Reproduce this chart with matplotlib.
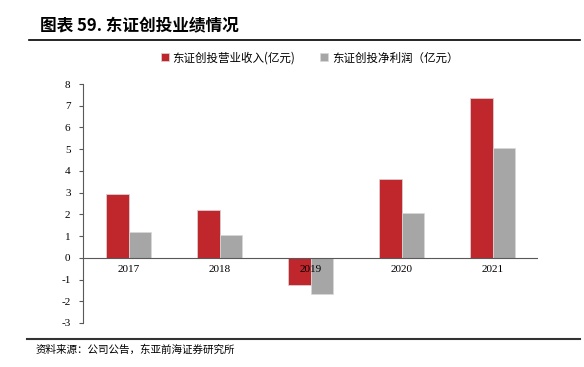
import numpy as np
import matplotlib.pyplot as plt

years = ["2017", "2018", "2019", "2020", "2021"]
revenue = [2.93, 2.18, -1.24, 3.62, 7.37]
profit = [1.20, 1.06, -1.67, 2.08, 5.04]
yticks = [-3, -2, -1, 0, 1, 2, 3, 4, 5, 6, 7, 8]

cjk = ['Noto Sans CJK SC', 'DejaVu Sans']
serif = ['Liberation Serif', 'DejaVu Serif']

fig = plt.figure(figsize=(5.84, 3.67), dpi=100)
ax = fig.add_axes([83 / 584, 1 - 323 / 367, 455 / 584, 239 / 367])

x = np.arange(len(years))
w = 0.242
ax.bar(x - w / 2, revenue, w, color="#C0272D", edgecolor="#d9d9d9", linewidth=0.5,
       label="东证创投营业收入(亿元)", zorder=2)
ax.bar(x + w / 2, profit, w, color="#A6A6A6", edgecolor="#d9d9d9", linewidth=0.5,
       label="东证创投净利润（亿元）", zorder=2)

ax.set_xlim(-0.5, len(years) - 0.5)
ax.set_ylim(-3, 8)
ax.set_yticks(yticks)
ax.set_yticklabels([str(t) for t in yticks], fontfamily=serif, fontsize=8)
ax.axhline(0, color="#595959", linewidth=0.8, zorder=3)
ax.set_xticks([])
for i, yr in enumerate(years):
    ax.text(i, -0.35, yr, ha="center", va="top", fontfamily=serif, fontsize=8, zorder=4)

for s in ["top", "right", "bottom"]:
    ax.spines[s].set_visible(False)
ax.spines["left"].set_color("#595959")
ax.spines["left"].set_linewidth(0.8)
ax.tick_params(axis="y", direction="out", length=3, color="#595959", pad=6)

ax.legend(loc="center", bbox_to_anchor=(0.498, 1.109), ncol=2, frameon=False,
          prop={"family": cjk, "size": 8.3}, handlelength=0.7, handleheight=0.7,
          columnspacing=2.2, handletextpad=0.3)

fig.text(40 / 584, 1 - 25 / 367, "图表 59. 东证创投业绩情况", fontfamily=cjk,
         fontsize=12, fontweight="bold", va="center")
fig.add_artist(plt.Line2D([29 / 584, 580 / 584], [1 - 40 / 367, 1 - 40 / 367],
                          color="black", linewidth=1.2))
fig.add_artist(plt.Line2D([27 / 584, 580 / 584], [1 - 339 / 367, 1 - 339 / 367],
                          color="#333333", linewidth=1.5))
fig.text(36 / 584, 1 - 350 / 367, "资料来源：公司公告，东亚前海证券研究所", fontfamily=cjk,
         fontsize=7.6, va="center")

fig.savefig("out.png", dpi=100)
